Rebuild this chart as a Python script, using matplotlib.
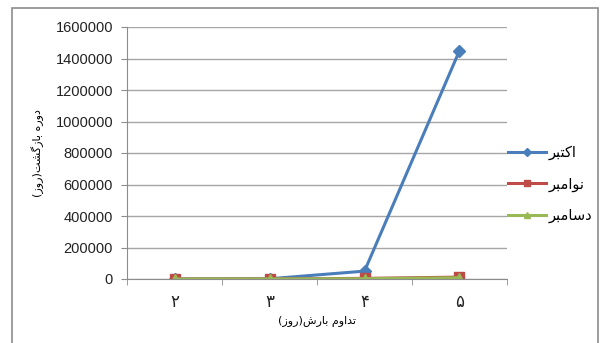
import matplotlib
matplotlib.use("Agg")
import matplotlib.pyplot as plt
from matplotlib.patches import Rectangle

# --- data ---
categories = ["۲", "۳", "۴", "۵"]
october = [500, 1500, 50000, 1450000]
november = [200, 500, 4000, 12000]
december = [100, 300, 2000, 8000]
series_names = ["اکتبر", "نوامبر", "دسامبر"]
y_ticks = [0, 200000, 400000, 600000, 800000, 1000000, 1200000, 1400000, 1600000]
x_title = "تداوم بارش(روز)"
y_title = "دوره بازگشت(روز)"

# minimal Arabic-script shaping (matplotlib does no shaping / bidi)
forms = {
    "ا": ("\uFE8D", "\uFE8E", None, None),
    "ب": ("\uFE8F", "\uFE90", "\uFE91", "\uFE92"),
    "ت": ("\uFE95", "\uFE96", "\uFE97", "\uFE98"),
    "د": ("\uFEA9", "\uFEAA", None, None),
    "ر": ("\uFEAD", "\uFEAE", None, None),
    "ز": ("\uFEAF", "\uFEB0", None, None),
    "س": ("\uFEB1", "\uFEB2", "\uFEB3", "\uFEB4"),
    "ش": ("\uFEB5", "\uFEB6", "\uFEB7", "\uFEB8"),
    "م": ("\uFEE1", "\uFEE2", "\uFEE3", "\uFEE4"),
    "ن": ("\uFEE5", "\uFEE6", "\uFEE7", "\uFEE8"),
    "ه": ("\uFEE9", "\uFEEA", "\uFEEB", "\uFEEC"),
    "و": ("\uFEED", "\uFEEE", None, None),
    "ک": ("\uFB8E", "\uFB8F", "\uFB90", "\uFB91"),
    "گ": ("\uFB92", "\uFB93", "\uFB94", "\uFB95"),
}


def shape(s):
    out = []
    for i, c in enumerate(s):
        if c not in forms:
            out.append(c)
            continue
        prev = s[i - 1] if i > 0 else None
        nxt = s[i + 1] if i + 1 < len(s) else None
        jp = prev in forms and forms[prev][2] is not None
        jn = forms[c][2] is not None and nxt in forms
        iso, fin, ini, med = forms[c]
        if jp and jn:
            out.append(med)
        elif jp:
            out.append(fin)
        elif jn:
            out.append(ini)
        else:
            out.append(iso)
    vis = "".join(reversed(out))
    return vis.translate(str.maketrans("()", ")("))


plt.rcParams["font.family"] = ["Liberation Sans", "DejaVu Sans"]

fig = plt.figure(figsize=(6.08, 3.43), dpi=100)
fig.patches.append(Rectangle((12 / 608, -0.05), 586 / 608, 1 - 8 / 343 + 0.05,
                             transform=fig.transFigure, fill=False,
                             edgecolor="#8c8c8c", linewidth=1.2))

ax = fig.add_axes([127 / 608, 64 / 343, 380 / 608, 252 / 343])
x = range(len(categories))

ax.plot(x, october, color="#4a7ebb", lw=2.2, marker="D", ms=6, label=shape(series_names[0]))
ax.plot(x, november, color="#be4b48", lw=2.2, marker="s", ms=7, label=shape(series_names[1]))
ax.plot(x, december, color="#98b954", lw=2.2, marker="^", ms=7, label=shape(series_names[2]))

ax.set_xlim(-0.5, len(categories) - 0.5)
ax.set_ylim(0, 1600000)
ax.set_yticks(y_ticks)
ax.set_yticklabels([str(v) for v in y_ticks], fontsize=10.5, color="#222222")
ax.set_xticks(list(x))
ax.set_xticklabels(categories, fontsize=12, family=["DejaVu Sans"], color="#222222")
ax.set_xticks([i + 0.5 for i in range(-1, len(categories))], minor=True)
ax.tick_params(axis="x", which="major", length=0, pad=10)
ax.tick_params(axis="x", which="minor", length=4, color="#8c8c8c", direction="out")
ax.tick_params(axis="y", length=4, color="#8c8c8c", pad=6)

ax.yaxis.grid(True, color="#a6a6a6", lw=1)
ax.set_axisbelow(True)
for side in ["top", "right"]:
    ax.spines[side].set_visible(False)
ax.spines["left"].set_color("#8c8c8c")
ax.spines["bottom"].set_color("#8c8c8c")

ax.set_xlabel(shape(x_title), fontsize=8, family=["DejaVu Sans"], labelpad=4)
ax.set_ylabel(shape(y_title), fontsize=8, family=["DejaVu Sans"], labelpad=8)

fig.legend(loc="center left", bbox_to_anchor=(495 / 608, 1 - 184 / 343), frameon=False,
           prop={"family": "DejaVu Sans", "size": 10.5}, handlelength=2.6,
           handletextpad=0.2, labelspacing=1.1, markerscale=0.7)

fig.savefig("out.png", dpi=100)
